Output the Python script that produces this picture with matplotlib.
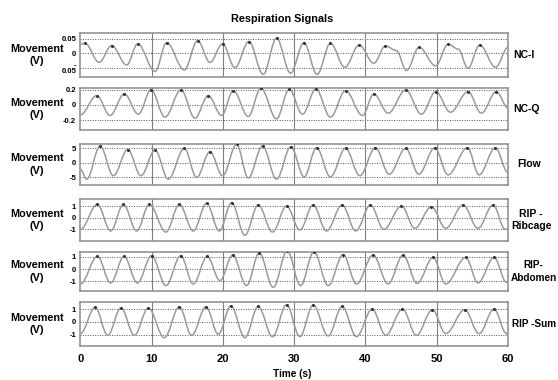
import matplotlib
matplotlib.use("Agg")
import matplotlib.pyplot as plt
from matplotlib.path import Path
from matplotlib.patches import PathPatch

plt.rcParams['font.family'] = ['Liberation Sans', 'DejaVu Sans']
plt.rcParams['font.weight'] = 'bold'

# ---- data: turning points (time s, value V) ----
nci_t = [0.0, 0.65, 2.62, 4.39, 6.50, 8.04, 10.47, 12.10, 14.58, 16.45, 18.18, 19.95, 21.68,
         23.64, 25.65, 27.52, 29.49, 31.36, 33.22, 35.09, 37.10, 39.11, 41.17, 42.80, 44.35,
         45.75, 47.52, 49.86, 51.59, 53.00, 54.39, 56.03, 58.27, 60.0]
nci_v = [0.030, 0.034, -0.031, 0.026, -0.040, 0.032, -0.062, 0.036, -0.057, 0.043, -0.031, 0.032,
         -0.049, 0.040, -0.072, 0.051, -0.068, 0.036, -0.072, 0.034, -0.048, 0.028, -0.034, 0.025,
         0.009, -0.059, 0.020, -0.043, 0.031, 0.014, -0.051, 0.028, -0.048, 0.020]

ncq_t = [0.0, 2.29, 4.16, 6.17, 8.13, 9.91, 11.87, 14.11, 16.07, 17.94, 19.81, 21.45, 23.55,
         25.33, 27.52, 29.30, 31.17, 33.04, 35.09, 37.20, 39.58, 41.17, 43.18, 45.65, 47.85,
         49.86, 51.92, 54.39, 56.26, 58.36, 60.0]
ncq_v = [-0.13, 0.122, -0.139, 0.144, -0.122, 0.196, -0.161, 0.196, -0.174, 0.122, -0.139, 0.187,
         -0.152, 0.218, -0.183, 0.204, -0.122, 0.209, -0.161, 0.187, -0.139, 0.144, -0.109, 0.196,
         -0.122, 0.174, -0.096, 0.174, -0.109, 0.174, -0.04]

flow_t = [0.0, 0.89, 2.76, 4.63, 6.64, 8.50, 10.47, 12.34, 14.58, 16.31, 18.18, 19.95, 21.92,
          23.55, 25.56, 27.52, 29.53, 31.40, 33.13, 35.09, 37.20, 39.21, 41.40, 43.32, 45.65,
          47.48, 49.72, 51.59, 54.30, 55.94, 58.22, 60.0]
flow_v = [-2.3, -5.7, 5.7, -4.5, 4.5, -4.5, 4.3, -5.7, 4.9, -5.1, 3.75, -4.5, 6.25, -5.3, 5.7,
          -5.7, 5.45, -4.9, 5.1, -4.9, 4.9, -4.5, 5.1, -4.0, 4.9, -4.0, 5.1, -4.2, 5.1, -4.2,
          5.1, -3.4]

ribc_t = [0.0, 2.38, 4.25, 6.03, 7.90, 9.67, 12.01, 13.88, 15.84, 17.71, 19.49, 21.22, 23.08,
          24.95, 26.96, 28.93, 30.79, 32.66, 34.53, 36.73, 38.64, 40.70, 42.57, 45.05, 46.92,
          49.25, 51.26, 53.69, 55.79, 57.90, 59.6, 60.0]
ribc_v = [-1.0, 1.14, -1.14, 1.14, -1.14, 1.14, -1.23, 1.14, -1.14, 1.23, -1.14, 1.29, -1.51,
          1.09, -1.23, 1.0, -1.06, 1.09, -1.14, 1.09, -1.14, 1.09, -1.0, 1.0, -0.91, 0.94, -0.91,
          1.09, -0.91, 1.09, -1.0, -0.95]

abdo_t = [0.0, 2.38, 4.25, 6.12, 7.99, 10.0, 12.01, 14.07, 15.84, 17.80, 19.58, 21.36, 23.32,
          25.09, 27.06, 29.02, 30.89, 32.76, 34.77, 36.87, 38.74, 41.07, 43.18, 45.28, 47.24,
          49.49, 51.26, 54.07, 55.79, 58.04, 59.8, 60.0]
abdo_v = [-1.2, 1.01, -1.12, 1.01, -1.12, 1.07, -1.33, 1.07, -1.2, 1.01, -0.93, 1.12, -1.33,
          1.28, -1.47, 1.47, -1.33, 1.39, -1.33, 1.15, -1.2, 1.12, -1.2, 1.12, -1.15, 0.93, -1.2,
          0.93, -1.12, 0.93, -1.07, -1.0]

rsum_t = [0.0, 2.06, 3.83, 5.70, 7.57, 9.53, 11.78, 13.88, 15.61, 17.62, 19.35, 21.12, 23.08,
          24.95, 26.96, 28.93, 30.79, 32.66, 34.77, 36.73, 38.74, 40.93, 42.85, 45.19, 47.15,
          49.39, 51.26, 53.93, 55.94, 58.04, 59.8, 60.0]
rsum_v = [-0.92, 1.13, -1.05, 1.08, -1.05, 1.08, -1.24, 1.18, -1.05, 1.18, -0.97, 1.26, -1.24,
          1.21, -1.16, 1.34, -1.16, 1.32, -1.1, 1.21, -1.16, 1.0, -1.05, 1.0, -1.05, 0.95, -0.92,
          0.95, -0.92, 1.0, -0.92, -0.85]

series_t = [nci_t, ncq_t, flow_t, ribc_t, abdo_t, rsum_t]
series_v = [nci_v, ncq_v, flow_v, ribc_v, abdo_v, rsum_v]
right_labels = ["NC-I", "NC-Q", "Flow", "RIP -\nRibcage", "RIP-\nAbdomen", "RIP -Sum"]
ytick_vals = [[-0.05, 0, 0.05], [-0.2, 0, 0.2], [-5, 0, 5], [-1, 0, 1], [-1, 0, 1], [-1, 0, 1]]
ytick_text = [["-\n0.05", "0", "0.05"], ["-0.2", "0", "0.2"], ["-5", "0", "5"],
              ["-1", "0", "1"], ["-1", "0", "1"], ["-1", "0", "1"]]
ylims = [(-0.08, 0.068), (-0.33, 0.226), (-7.7, 6.5), (-2.0, 1.63), (-1.79, 1.39), (-1.89, 1.53)]
xticks = [0, 10, 20, 30, 40, 50, 60]
title = "Respiration Signals"
xlabel = "Time (s)"
ylabel = "Movement\n(V)"

# ---- layout (pixels of the 558x380 reference) ----
W, H = 558, 380
fig = plt.figure(figsize=(W / 100, H / 100), dpi=100)
x0, x1 = 80.4, 508.0
panel_px = [(33.3, 76.7), (87.7, 130.0), (143.7, 185.0), (198.7, 241.0), (251.7, 291.3), (302.3, 346.0)]
right_pos = [(513, 'left', 7.5), (513, 'left', 7.5), (517, 'left', 7.5), (531, 'center', 7.5),
             (533.5, 'center', 7.2), (512, 'left', 7.2)]

K = 0.3642
for i, ((top, bot), ts, vs) in enumerate(zip(panel_px, series_t, series_v)):
    ax = fig.add_axes([x0 / W, 1 - bot / H, (x1 - x0) / W, (bot - top) / H])
    verts = [(ts[0], vs[0])]
    codes = [Path.MOVETO]
    for j in range(1, len(ts)):
        dt = ts[j] - ts[j - 1]
        verts += [(ts[j - 1] + K * dt, vs[j - 1]), (ts[j] - K * dt, vs[j]), (ts[j], vs[j])]
        codes += [Path.CURVE4] * 3
    ax.add_patch(PathPatch(Path(verts, codes), fill=False, edgecolor='#9a9a9a', lw=1.1,
                           zorder=3))
    pk_t = [ts[j] for j in range(1, len(ts) - 1) if vs[j] > vs[j - 1] and vs[j] > vs[j + 1]]
    pk_v = [vs[j] for j in range(1, len(ts) - 1) if vs[j] > vs[j - 1] and vs[j] > vs[j + 1]]
    ax.plot(pk_t, pk_v, 'o', ms=1.2, color='#333333', zorder=4)

    ax.set_xlim(0, 60)
    ax.set_ylim(*ylims[i])
    ax.set_yticks(ytick_vals[i])
    ax.set_yticklabels(ytick_text[i], fontsize=5.5, fontweight='bold', linespacing=0.9)
    ax.set_xticks(xticks)
    for v in ytick_vals[i]:
        ax.axhline(v, color='#555555', lw=0.7, ls=(0, (1, 1.5)), zorder=1)
    for xv in xticks[1:-1]:
        ax.axvline(xv, color='#808080', lw=0.8, zorder=1)
    ax.tick_params(length=0, pad=3)
    for s in ax.spines.values():
        s.set_color('#8a8a8a')
        s.set_linewidth(1.1)
    if i < 5:
        ax.set_xticklabels([])
    else:
        ax.set_xticklabels([str(x) for x in xticks], fontsize=8, fontweight='bold')
        ax.tick_params(axis='x', pad=5.5)

    yc = 1 - (top + bot) / 2 / H
    fig.text(37 / W, yc, ylabel, ha='center', va='center', fontsize=7.8,
             fontweight='bold', linespacing=1.3)
    rx, ha, fs = right_pos[i]
    fig.text(rx / W, yc, right_labels[i], ha=ha, va='center', fontsize=fs,
             fontweight='bold', linespacing=1.3, multialignment='center')

fig.text(282 / W, 1 - 19 / H, title, ha='center', va='center', fontsize=7.8, fontweight='bold')
fig.text(292 / W, 1 - 374 / H, xlabel, ha='center', va='center', fontsize=7.2, fontweight='bold')

fig.savefig("out.png", dpi=100)
